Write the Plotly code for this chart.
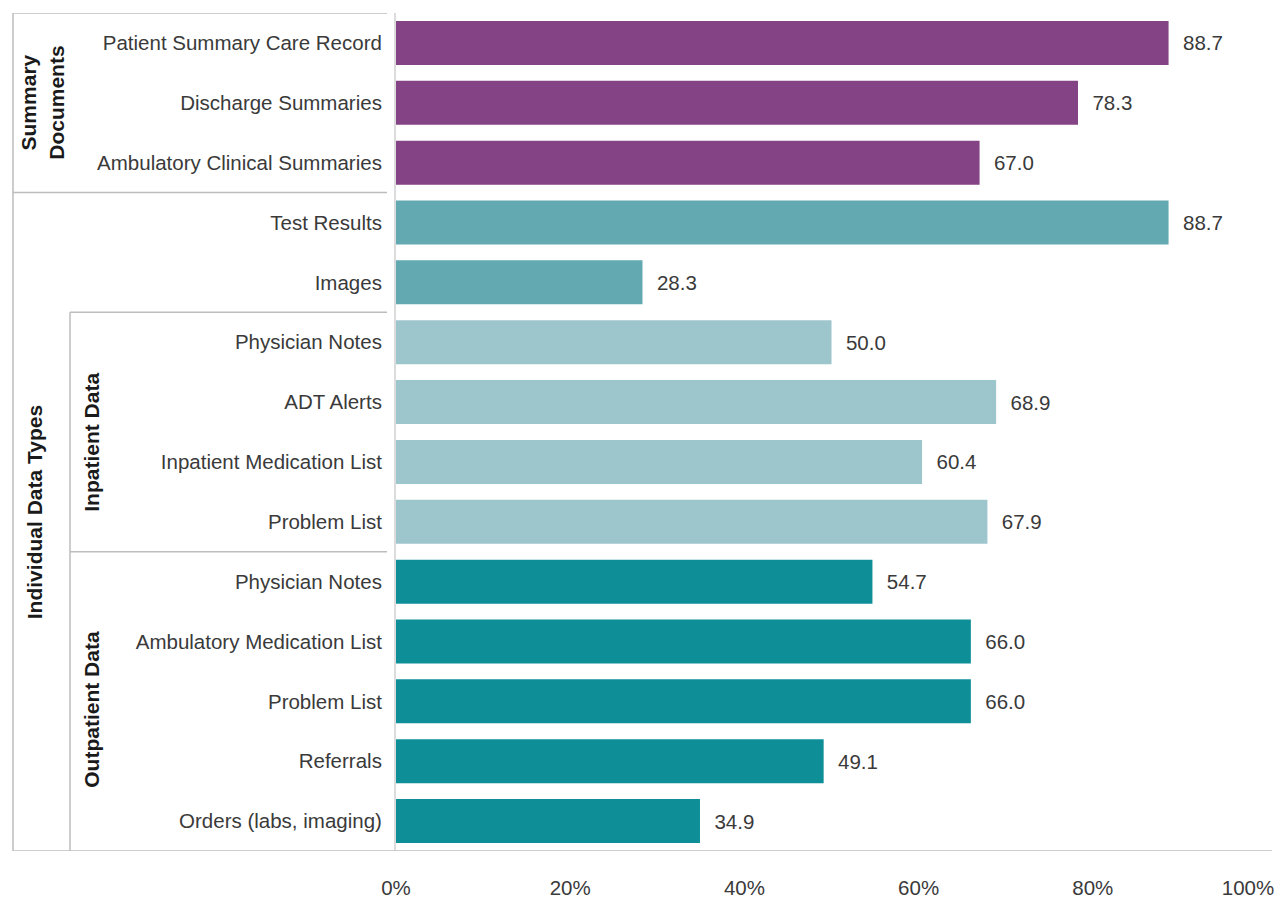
import plotly.graph_objects as go

categories = ["Patient Summary Care Record", "Discharge Summaries", "Ambulatory Clinical Summaries",
              "Test Results", "Images",
              "Physician Notes", "ADT Alerts", "Inpatient Medication List", "Problem List",
              "Physician Notes", "Ambulatory Medication List", "Problem List", "Referrals",
              "Orders (labs, imaging)"]
values = [88.7, 78.3, 67.0, 88.7, 28.3, 50.0, 68.9, 60.4, 67.9, 54.7, 66.0, 66.0, 49.1, 34.9]
groups = ["summary"] * 3 + ["individual"] * 2 + ["inpatient"] * 4 + ["outpatient"] * 5
group_colors = {"summary": "#834385", "individual": "#63A9B1",
                "inpatient": "#9DC5CC", "outpatient": "#0E8F98"}
x_ticks = [0, 20, 40, 60, 80]
x_tick_last = [100]

W, H = 1276, 899
ML, MR, MT, MB = 396, 9, 13, 48
PW = W - ML - MR
FONT = "Liberation Sans, Arial, sans-serif"
TXT = "#3a3a3a"
FS = 20.5


def px(xpix):
    return (xpix - ML) / PW


rows = list(range(len(categories)))

fig = go.Figure()
fig.add_trace(go.Bar(
    x=values, y=rows, orientation="h",
    marker=dict(color=[group_colors[g] for g in groups], line=dict(width=0)),
    width=0.735,
    text=values, texttemplate="\u00a0\u00a0%{x:.1f}", textposition="outside",
    textfont=dict(family=FONT, size=FS, color=TXT), cliponaxis=False,
    showlegend=False, hoverinfo="skip",
))
# invisible trace for secondary x axis (100% label)
fig.add_trace(go.Scatter(x=[100], y=[0], xaxis="x2", mode="markers",
                         marker=dict(opacity=0), showlegend=False, hoverinfo="skip"))

fig.update_layout(
    width=W, height=H,
    margin=dict(l=ML, r=MR, t=MT, b=MB, pad=0, autoexpand=False),
    plot_bgcolor="white", paper_bgcolor="white",
    font=dict(family=FONT, size=FS, color=TXT),
    xaxis=dict(range=[0, 100], tickvals=x_ticks, ticktext=[f"{v}%" for v in x_ticks],
               showgrid=False, zeroline=False, showline=False, ticks="", automargin=False,
               ticklabelstandoff=22, tickfont=dict(size=FS, color=TXT)),
    xaxis2=dict(range=[0, 100], overlaying="x", side="bottom", anchor="y", automargin=False,
                tickvals=x_tick_last, ticktext=[f"{v}%" for v in x_tick_last],
                showgrid=False, zeroline=False, showline=False, ticks="",
                ticklabelstandoff=22, ticklabelshift=-19, tickfont=dict(size=FS, color=TXT)),
    yaxis=dict(range=[13.5, -0.5], tickvals=rows, ticktext=categories, automargin=False,
               showgrid=False, zeroline=False, showline=True, linecolor="#dcdcdc", linewidth=2,
               ticks="", ticklabelstandoff=8, tickfont=dict(size=FS, color=TXT)),
    bargap=0.2,
)

LC = "#bdbdbd"
LW = 1.5
shapes = [
    # outer box
    dict(x0=px(13), x1=px(387), y0=-0.5, y1=-0.5),
    dict(x0=px(13), x1=px(13), y0=-0.5, y1=13.5),
    dict(x0=px(13), x1=px(387), y0=2.5, y1=2.5),
    dict(x0=px(13), x1=px(1272), y0=13.5, y1=13.5),
    # inner box
    dict(x0=px(70), x1=px(387), y0=4.5, y1=4.5),
    dict(x0=px(70), x1=px(70), y0=4.5, y1=13.5),
    dict(x0=px(70), x1=px(387), y0=8.5, y1=8.5),
]
for s in shapes:
    fig.add_shape(type="line", xref="paper", yref="y", line=dict(color=LC, width=LW), **s)

group_labels = [
    ("Summary<br>Documents", 42, 1.0),
    ("Individual Data Types", 34, 7.84),
    ("Inpatient Data", 92, 6.68),
    ("Outpatient Data", 92, 11.14),
]
for text, xp, yv in group_labels:
    fig.add_annotation(text=f"<b>{text}</b>", x=px(xp), y=yv, xref="paper", yref="y",
                       textangle=-90, showarrow=False, xanchor="center", yanchor="middle",
                       font=dict(family=FONT, size=21, color="#1a1a1a"))

fig.write_html("out.html")
